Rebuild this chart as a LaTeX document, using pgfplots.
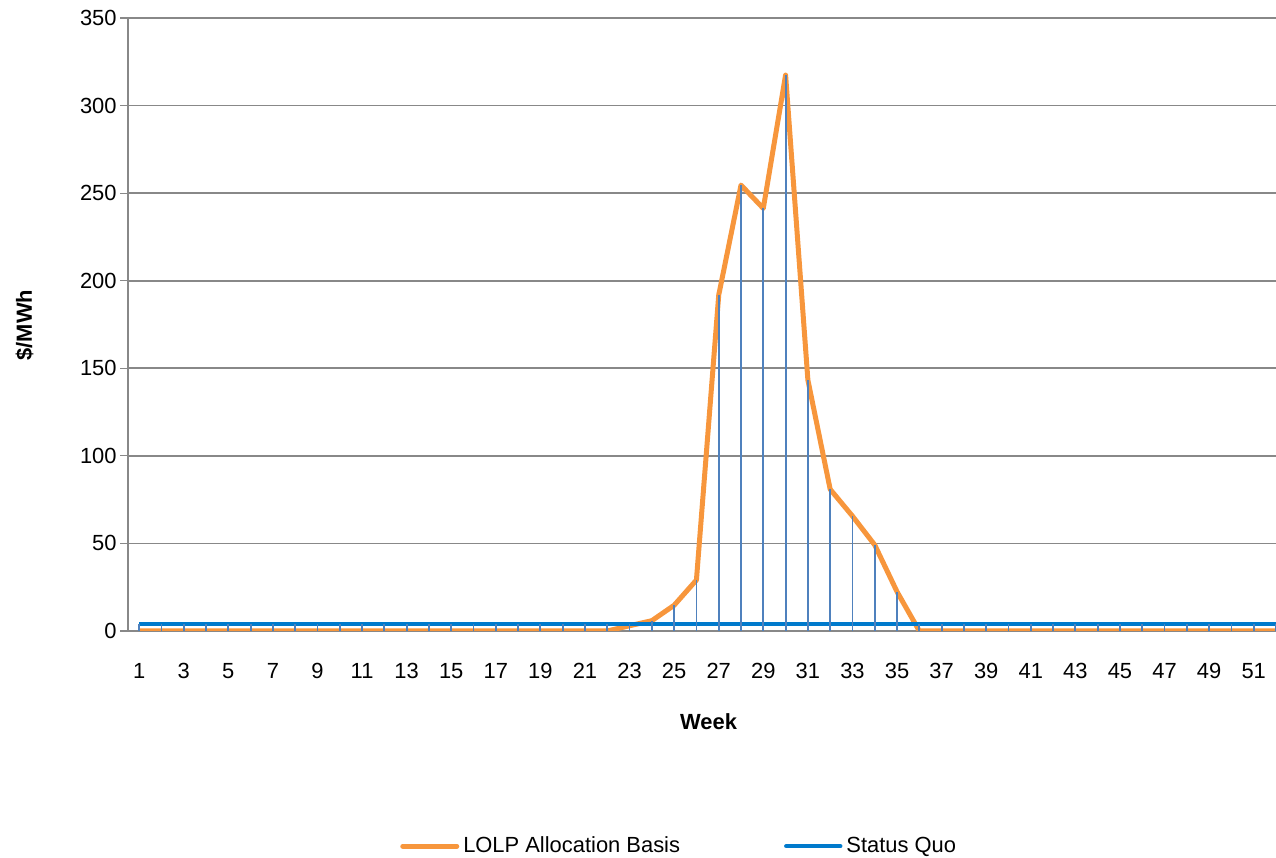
\documentclass[border=0pt]{standalone}
\usepackage{fontspec}
\setmainfont{Liberation Sans}
\usepackage{pgfplots}
\pgfplotsset{compat=1.18}
\usepackage{pgfplotstable}

\definecolor{lolp}{RGB}{247,150,60}
\definecolor{squo}{RGB}{0,122,204}
\definecolor{dropc}{RGB}{79,129,189}
\definecolor{gridc}{RGB}{136,136,136}

% week, LOLP allocation basis, status quo, top of drop line
\pgfplotstableread{
week lolp squo top
1 0 4 4
2 0 4 4
3 0 4 4
4 0 4 4
5 0 4 4
6 0 4 4
7 0 4 4
8 0 4 4
9 0 4 4
10 0 4 4
11 0 4 4
12 0 4 4
13 0 4 4
14 0 4 4
15 0 4 4
16 0 4 4
17 0 4 4
18 0 4 4
19 0 4 4
20 0 4 4
21 0 4 4
22 0 4 4
23 3 4 4
24 5.9 4 5.9
25 14.7 4 14.7
26 29.1 4 29.1
27 191.8 4 191.8
28 254.6 4 254.6
29 241.3 4 241.3
30 317.4 4 317.4
31 143.3 4 143.3
32 80.9 4 80.9
33 65.6 4 65.6
34 49.1 4 49.1
35 22.4 4 22.4
36 0 4 4
37 0 4 4
38 0 4 4
39 0 4 4
40 0 4 4
41 0 4 4
42 0 4 4
43 0 4 4
44 0 4 4
45 0 4 4
46 0 4 4
47 0 4 4
48 0 4 4
49 0 4 4
50 0 4 4
51 0 4 4
52 0 4 4
}\datatable

\begin{document}
\begin{tikzpicture}
\path[use as bounding box] (0,0) rectangle (638bp,429bp);
\begin{axis}[
  at={(64bp,113.5bp)}, anchor=south west,
  scale only axis,
  width=574bp, height=306.5bp,
  xmin=0.5, xmax=52,
  ymin=0, ymax=350,
  xtick={1,3,...,51},
  ytick={0,50,...,350},
  axis x line*=bottom,
  axis y line*=left,
  axis line style={gridc, line width=0.6bp, -},
  xtick style={draw=none},
  ytick style={gridc, line width=0.6bp},
  tick align=outside,
  major tick length=3.75bp,
  ymajorgrids,
  grid style={gridc, line width=0.9bp},
  tick label style={font=\fontsize{11}{13}\selectfont, black},
  /pgf/number format/assume math mode=true,
  xticklabel style={anchor=center, yshift=-16.25bp},
  yticklabel style={anchor=east, inner sep=0pt, xshift=-1.75bp},
  xlabel={\textbf{Week}},
  ylabel={\textbf{\$/MWh}},
  label style={font=\fontsize{11}{13}\selectfont},
  xlabel style={at={(axis description cs:0.5057,-0.1485)}, anchor=center},
  ylabel style={at={(axis description cs:-0.0902,0.499)}, anchor=center, rotate=0},
  legend style={at={(axis description cs:0.481,-0.351)}, anchor=center,
    draw=none, font=\fontsize{11}{13}\selectfont,
    /tikz/every even column/.append style={column sep=50bp}},
  legend columns=2,
  legend cell align=left,
  legend image code/.code={\draw[#1, line cap=round] (0bp,0bp) -- (27bp,0bp);},
  clip=true,
]
\addplot[lolp, line width=2.5bp, line join=round] table[x=week, y=lolp] {\datatable};
\addlegendentry{LOLP Allocation Basis}
\addplot[squo, line width=2.2bp] table[x=week, y=squo] {\datatable};
\addlegendentry{Status Quo}
\addplot[dropc, line width=0.9bp, ycomb, forget plot] table[x=week, y=top] {\datatable};
\end{axis}
\end{tikzpicture}
\end{document}
